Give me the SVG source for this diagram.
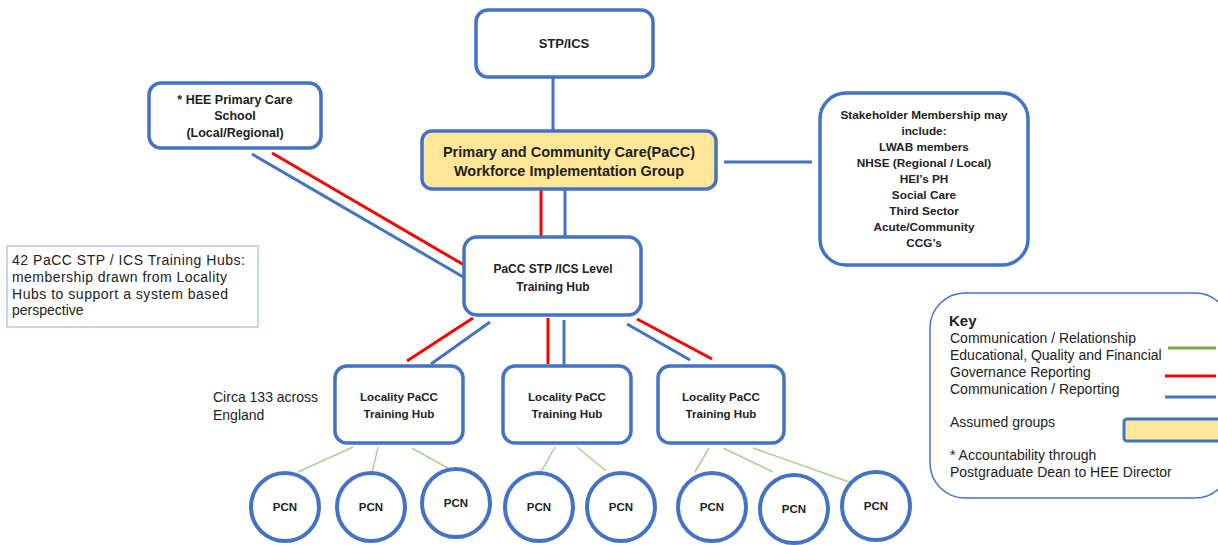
<svg xmlns="http://www.w3.org/2000/svg" width="1218" height="545" viewBox="0 0 1218 545">
<style>
.node{fill:#fff;stroke:#4472C4;stroke-width:3.5}
.grp{fill:#FFE699;stroke:#4472C4;stroke-width:3.5}
.t{font-family:"Liberation Sans",Arial,sans-serif;font-weight:bold;fill:#222;text-anchor:middle}
.r{font-family:"Liberation Sans",Arial,sans-serif;fill:#222}
.red{stroke:#FF0000;stroke-width:3;fill:none}
.blue{stroke:#4472C4;stroke-width:3;fill:none}
.green{stroke:#A9D18E;stroke-width:1.5;fill:none}
.pcn{fill:#fff;stroke:#4472C4;stroke-width:4}
</style>
<rect width="1218" height="545" fill="#fff"/>
<g id="connectors">
<line class="blue" x1="553" y1="77" x2="553" y2="131"/>
<line class="blue" x1="724" y1="162" x2="812" y2="162" stroke-width="2"/>
<line class="red" x1="541" y1="189" x2="541" y2="237"/>
<line class="blue" x1="565" y1="189" x2="565" y2="237"/>
<line class="red" x1="272" y1="153" x2="464" y2="265"/>
<line class="blue" x1="252" y1="154" x2="465" y2="278"/>
<line class="red" x1="473" y1="318" x2="407" y2="361"/>
<line class="blue" x1="490" y1="322" x2="431" y2="364"/>
<line class="red" x1="548" y1="318" x2="548" y2="364"/>
<line class="blue" x1="564" y1="320" x2="564" y2="366"/>
<line class="blue" x1="627" y1="324" x2="690" y2="360"/>
<line class="red" x1="637" y1="319" x2="712" y2="359"/>
<line class="green" x1="353" y1="447" x2="298" y2="472"/>
<line class="green" x1="378" y1="447" x2="372" y2="473"/>
<line class="green" x1="412" y1="448" x2="453" y2="471"/>
<line class="green" x1="555" y1="447" x2="541" y2="472"/>
<line class="green" x1="577" y1="447" x2="606" y2="471"/>
<line class="green" x1="709" y1="448" x2="695" y2="472"/>
<line class="green" x1="723" y1="448" x2="773" y2="472"/>
<line class="green" x1="753" y1="448" x2="849" y2="482"/>
</g>
<g id="stp">
<rect class="node" x="476" y="10" width="177" height="67" rx="12"/>
<text class="t" x="564" y="48" font-size="13">STP/ICS</text>
</g>
<g id="hee">
<rect class="node" x="149" y="83" width="172" height="65" rx="12"/>
<text class="t" x="235" y="104" font-size="12.5">* HEE  Primary Care</text>
<text class="t" x="235" y="120" font-size="12.5">School</text>
<text class="t" x="235" y="137" font-size="12.5">(Local/Regional)</text>
</g>
<g id="pacc">
<rect class="grp" x="422" y="131" width="294" height="58" rx="10"/>
<text class="t" x="569" y="157" font-size="14.5">Primary and Community Care(PaCC)</text>
<text class="t" x="569" y="176" font-size="14.5">Workforce Implementation Group</text>
</g>
<g id="stakeholder">
<rect class="node" x="820" y="93" width="208" height="172" rx="26"/>
<g class="t" font-size="11.8">
<text x="924" y="119">Stakeholder Membership may</text>
<text x="924" y="135">include:</text>
<text x="924" y="151">LWAB members</text>
<text x="924" y="167">NHSE (Regional / Local)</text>
<text x="924" y="183">HEI’s PH</text>
<text x="924" y="199">Social Care</text>
<text x="924" y="215">Third Sector</text>
<text x="924" y="231">Acute/Community</text>
<text x="924" y="247">CCG’s</text>
</g>
</g>
<g id="note">
<rect x="7" y="246" width="251" height="81" fill="#fff" stroke="#8EA9DB" stroke-width="1"/>
<g class="r" font-size="14">
<text x="12" y="265" textLength="233" lengthAdjust="spacing">42 PaCC STP / ICS Training Hubs:</text>
<text x="12" y="282" textLength="215" lengthAdjust="spacing">membership drawn from Locality</text>
<text x="12" y="299" textLength="216" lengthAdjust="spacing">Hubs to support a system based</text>
<text x="12" y="315">perspective</text>
</g>
</g>
<g id="stphub">
<rect class="node" x="464" y="237" width="177" height="78" rx="13"/>
<text class="t" x="553" y="273" font-size="12">PaCC  STP /ICS Level</text>
<text class="t" x="553" y="291" font-size="12">Training Hub</text>
</g>
<g id="circa">
<text class="r" x="213" y="402" font-size="14">Circa 133 across</text>
<text class="r" x="213" y="420" font-size="14">England</text>
</g>
<g id="loc1">
<rect class="node" x="335" y="366" width="128" height="77" rx="12"/>
<text class="t" x="399" y="401" font-size="11.6">Locality PaCC</text>
<text class="t" x="399" y="418" font-size="11.6">Training Hub</text>
</g>
<g id="loc2">
<rect class="node" x="503" y="366" width="128" height="77" rx="12"/>
<text class="t" x="567" y="401" font-size="11.6">Locality PaCC</text>
<text class="t" x="567" y="418" font-size="11.6">Training Hub</text>
</g>
<g id="loc3">
<rect class="node" x="658" y="366" width="126" height="77" rx="12"/>
<text class="t" x="721" y="401" font-size="11.6">Locality PaCC</text>
<text class="t" x="721" y="418" font-size="11.6">Training Hub</text>
</g>
<g id="pcn1"><circle class="pcn" cx="285" cy="507" r="34"/><text class="t" x="285" y="511" font-size="11.5">PCN</text></g>
<g id="pcn2"><circle class="pcn" cx="371" cy="507" r="34"/><text class="t" x="371" y="511" font-size="11.5">PCN</text></g>
<g id="pcn3"><circle class="pcn" cx="456" cy="503" r="34"/><text class="t" x="456" y="507" font-size="11.5">PCN</text></g>
<g id="pcn4"><circle class="pcn" cx="539" cy="507" r="34"/><text class="t" x="539" y="511" font-size="11.5">PCN</text></g>
<g id="pcn5"><circle class="pcn" cx="621" cy="507" r="34"/><text class="t" x="621" y="511" font-size="11.5">PCN</text></g>
<g id="pcn6"><circle class="pcn" cx="712" cy="507" r="34"/><text class="t" x="712" y="511" font-size="11.5">PCN</text></g>
<g id="pcn7"><circle class="pcn" cx="794" cy="509" r="34"/><text class="t" x="794" y="513" font-size="11.5">PCN</text></g>
<g id="pcn8"><circle class="pcn" cx="876" cy="506" r="34"/><text class="t" x="876" y="510" font-size="11.5">PCN</text></g>
<g id="key">
<rect x="930" y="293" width="300" height="205" rx="35" fill="#fff" stroke="#4472C4" stroke-width="1.5"/>
<text class="r" x="949" y="326" font-size="15" font-weight="bold">Key</text>
<g class="r" font-size="14">
<text x="950" y="343">Communication / Relationship</text>
<text x="950" y="360">Educational, Quality and Financial</text>
<text x="950" y="377">Governance Reporting</text>
<text x="950" y="394">Communication / Reporting</text>
<text x="950" y="427">Assumed groups</text>
<text x="950" y="460">* Accountability through</text>
<text x="950" y="477">Postgraduate Dean to HEE Director</text>
</g>
<line x1="1168" y1="348" x2="1216" y2="348" stroke="#70AD47" stroke-width="3"/>
<line x1="1165" y1="376" x2="1216" y2="376" stroke="#FF0000" stroke-width="3"/>
<line x1="1165" y1="397" x2="1216" y2="397" stroke="#4472C4" stroke-width="3"/>
<rect x="1124" y="419" width="100" height="22" rx="3" fill="#FFE699" stroke="#4472C4" stroke-width="3"/>
</g>
</svg>
